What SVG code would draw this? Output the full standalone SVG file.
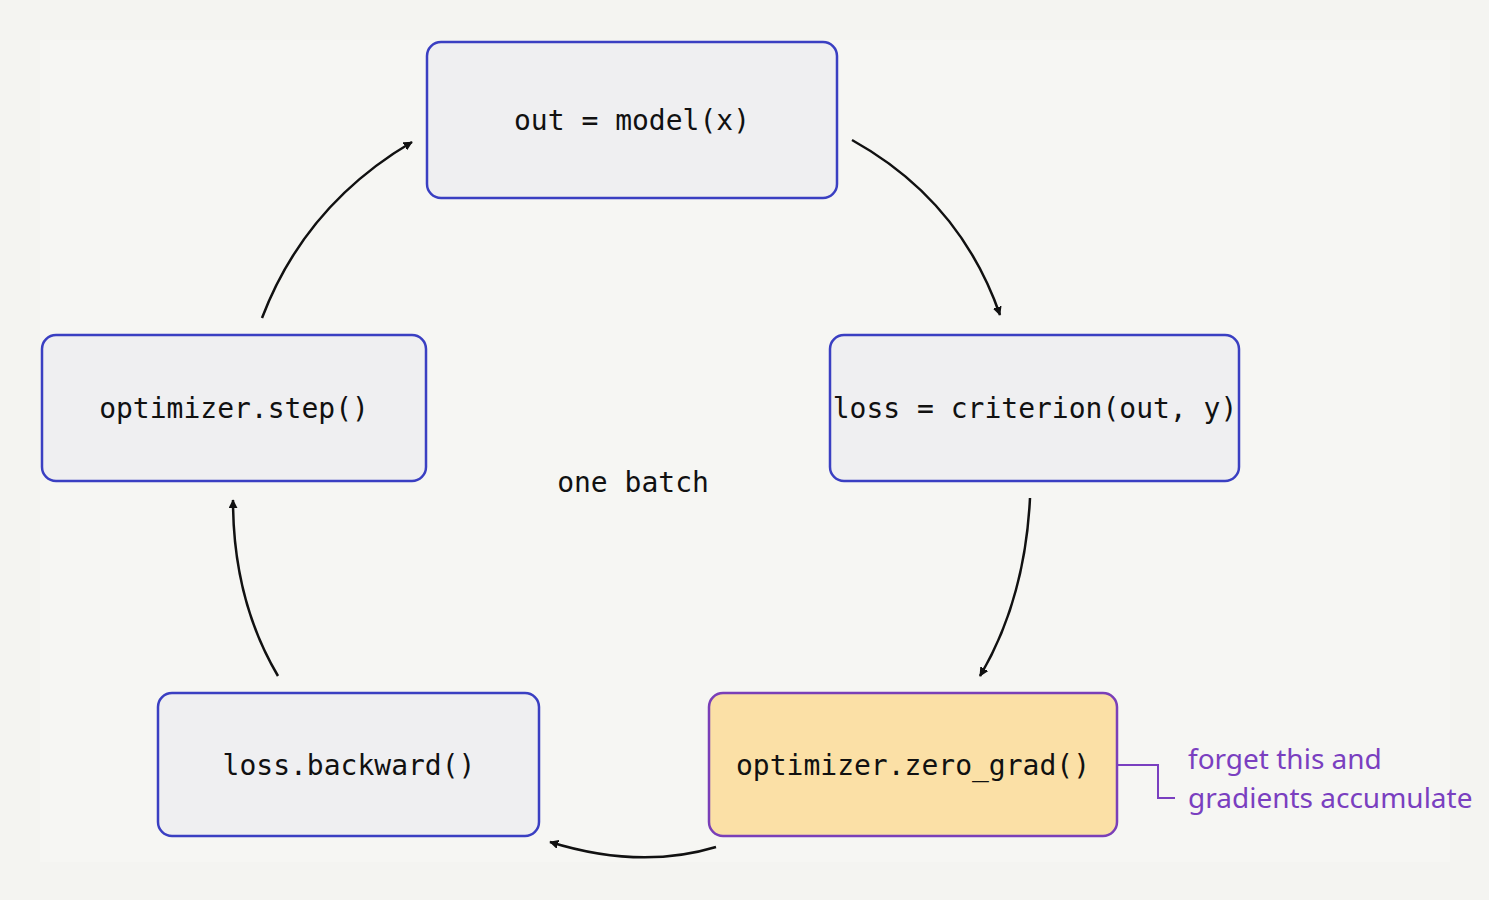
<svg xmlns="http://www.w3.org/2000/svg" width="1489" height="900" viewBox="0 0 1489 900">
<style>
.n{fill:#efeff1;stroke:#3a3fc2;stroke-width:2.5}
.h{fill:#fbe0a6;stroke:#7a3fb8;stroke-width:2.5}
.t{font-family:"DejaVu Sans Mono","Liberation Mono",monospace;font-size:28px;fill:#111;text-anchor:middle;dominant-baseline:middle}
.c{fill:none;stroke:#111;stroke-width:2.5;marker-end:url(#a)}
.an{font-family:"Noto Sans","Liberation Sans",sans-serif;font-size:28px;fill:#7a3fc0}
</style>
<defs><marker id="a" viewBox="0 0 10 10" refX="9" refY="5" markerWidth="9" markerHeight="9" orient="auto" markerUnits="userSpaceOnUse"><path d="M0,0L10,5L0,10L3,5Z" fill="#111" transform="scale(2.2) translate(-5.5,-2.7)"/></marker></defs>
<rect width="1489" height="900" fill="#f4f4f1"/>
<rect x="40" y="40" width="1410" height="822" fill="#f6f6f3"/>
<g id="n1"><rect class="n" x="427" y="42" width="410" height="156" rx="14"/><text class="t" x="632" y="122">out = model(x)</text></g>
<g id="n2"><rect class="n" x="830" y="335" width="409" height="146" rx="14"/><text class="t" x="1035" y="410">loss = criterion(out, y)</text></g>
<g id="n3"><rect class="n" x="42" y="335" width="384" height="146" rx="14"/><text class="t" x="234" y="410">optimizer.step()</text></g>
<g id="n4"><rect class="n" x="158" y="693" width="381" height="143" rx="14"/><text class="t" x="349" y="767">loss.backward()</text></g>
<g id="n5"><rect class="h" x="709" y="693" width="408" height="143" rx="14"/><text class="t" x="913" y="767">optimizer.zero_grad()</text></g>
<text class="t" x="633" y="484">one batch</text>
<g id="connectors">
<path class="c" d="M852,140 Q960,200 1000,315"/>
<path class="c" d="M1030,498 Q1025,600 980,676"/>
<path class="c" d="M716,847 Q640,870 550,842"/>
<path class="c" d="M278,676 Q233,600 233,500"/>
<path class="c" d="M262,318 Q305,205 412,142"/>
<path d="M1117,765H1158V798H1175" fill="none" stroke="#7a3fc0" stroke-width="2"/>
</g>
<text class="an" x="1188" y="769">forget this and</text>
<text class="an" x="1188" y="808">gradients accumulate</text>
</svg>
